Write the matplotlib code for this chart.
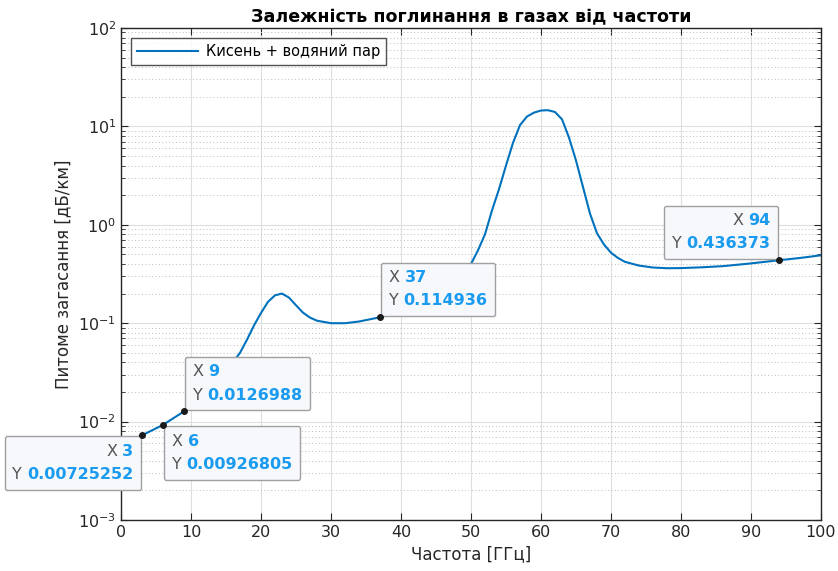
import matplotlib
matplotlib.use("Agg")
import matplotlib.pyplot as plt
from matplotlib.offsetbox import TextArea, HPacker, VPacker, AnnotationBbox
from matplotlib.ticker import LogLocator, NullFormatter, MultipleLocator

# frequency [GHz] and specific attenuation [dB/km]
freq = [1, 3, 6, 9, 12, 15, 17, 18, 19, 20, 21, 22, 23, 24, 25, 26, 27, 28,
        30, 32, 34, 37, 40, 43, 46, 48, 50, 51, 52, 53, 54, 55, 56, 57, 58,
        59, 60, 61, 62, 63, 64, 65, 66, 67, 68, 69, 70, 71, 72, 74, 76, 78,
        80, 83, 86, 90, 94, 97, 100]
atten = [0.0063, 0.00725252, 0.00926805, 0.0126988, 0.018, 0.032, 0.05, 0.068,
         0.095, 0.127, 0.165, 0.192, 0.2, 0.182, 0.152, 0.128, 0.114, 0.106,
         0.1, 0.1, 0.104, 0.114936, 0.13, 0.16, 0.22, 0.3, 0.4, 0.55, 0.8,
         1.4, 2.3, 4.0, 6.8, 10.3, 12.6, 13.8, 14.5, 14.6, 14.0, 11.8, 7.7,
         4.5, 2.42, 1.3, 0.82, 0.63, 0.52, 0.46, 0.42, 0.385, 0.368, 0.362,
         0.363, 0.37, 0.38, 0.405, 0.436373, 0.46, 0.49]

# data tips: x, y label, box corner anchored at the point
tip_x = [3, 6, 9, 37, 94]
tip_ylab = ['0.00725252', '0.00926805', '0.0126988', '0.114936', '0.436373']
tip_corner = [(1, 1), (0, 1), (0, 0), (0, 0), (1, 0)]

dark = '#262626'
blue = '#0072BD'
tipblue = '#1A9BF0'

plt.rcParams['font.family'] = 'DejaVu Sans'
fig = plt.figure(figsize=(8.38, 5.71), dpi=100)
ax = fig.add_axes([0.1444, 0.0893, 0.8353, 0.8617])

ax.plot(freq, atten, color=blue, lw=1.5, label='Кисень + водяний пар')
ax.set_yscale('log')
ax.set_xlim(0, 100)
ax.set_ylim(1e-3, 1e2)

ax.xaxis.set_major_locator(MultipleLocator(10))
ax.yaxis.set_major_locator(LogLocator(base=10, numticks=10))
ax.yaxis.set_minor_locator(LogLocator(base=10, subs=range(2, 10), numticks=20))
ax.yaxis.set_minor_formatter(NullFormatter())

ax.grid(True, which='major', color='#dedede', lw=0.8)
ax.grid(True, which='minor', axis='y', color='#bdbdbd', lw=0.7, ls=(0, (1, 2.5)))
ax.set_axisbelow(True)

ax.tick_params(which='both', direction='in', top=True, right=True, colors=dark,
               labelsize=11.5)
ax.tick_params(which='major', length=5)
ax.tick_params(which='minor', length=3)
for s in ax.spines.values():
    s.set_color(dark)
    s.set_linewidth(1.0)

ax.set_xlabel('Частота [ГГц]', fontsize=12, color=dark)
ax.set_ylabel('Питоме загасання [дБ/км]', fontsize=12, color=dark)
ax.set_title('Залежність поглинання в газах від частоти', fontsize=12.6,
             fontweight='bold', pad=4)

leg = ax.legend(loc='upper left', fancybox=False, edgecolor=dark, fontsize=10.5,
                borderaxespad=0.7, handlelength=4.2, handletextpad=0.5)
leg.get_frame().set_linewidth(1.0)

for tx, lab, corner in zip(tip_x, tip_ylab, tip_corner):
    ty = atten[freq.index(tx)]
    ax.plot(tx, ty, 'o', color='#1a1a1a', ms=4, zorder=8, clip_on=False)
    row1 = HPacker(children=[
        TextArea('X', textprops=dict(color='#555555', fontsize=11.5)),
        TextArea(str(tx), textprops=dict(color=tipblue, fontsize=11.5,
                                         fontweight='bold'))], pad=0, sep=3.5)
    row2 = HPacker(children=[
        TextArea('Y', textprops=dict(color='#555555', fontsize=11.5)),
        TextArea(lab, textprops=dict(color=tipblue, fontsize=11.5,
                                     fontweight='bold'))], pad=0, sep=3.5)
    align = 'right' if corner[0] == 1 else 'left'
    box = VPacker(children=[row1, row2], align=align, pad=0, sep=6)
    dx = -6.3 if corner[0] == 1 else 6.3
    dy = -6.3 if corner[1] == 1 else 6.3
    ab = AnnotationBbox(box, (tx, ty), xybox=(dx, dy), xycoords='data',
                        boxcoords='offset points', box_alignment=corner,
                        frameon=True, pad=0.55,
                        bboxprops=dict(boxstyle='round,pad=0.55,rounding_size=0.15',
                                       fc='#f7f8fb', ec='#a0a0a0', lw=1.0))
    ab.set_clip_on(False)
    ab.set_zorder(6)
    ax.add_artist(ab)

fig.savefig('out.png', dpi=100, facecolor='white')
